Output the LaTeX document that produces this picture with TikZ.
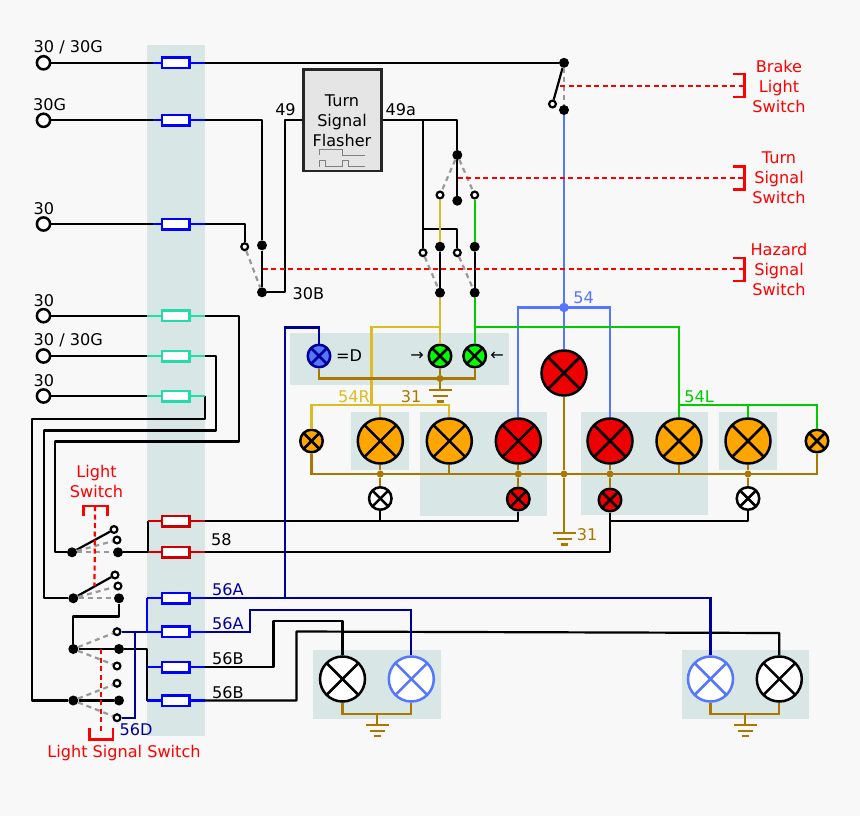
\documentclass[tikz,border=0pt]{standalone}
\usepackage{fontspec}
\setmainfont{DejaVu Sans}
\definecolor{bgcol}{HTML}{F8F8F8}
\definecolor{panelcol}{HTML}{D8E6E6}
\definecolor{yellowcol}{HTML}{DDBB22}
\definecolor{greencol}{HTML}{00CC00}
\definecolor{lightblue}{HTML}{5577FF}
\definecolor{darkblue}{HTML}{000099}
\definecolor{browncol}{HTML}{AA7700}
\definecolor{lampred}{HTML}{EE0000}
\definecolor{lamporange}{HTML}{FFA500}
\definecolor{turqcol}{HTML}{22DDAA}
\definecolor{fusered}{HTML}{CC0000}
\newcommand{\earth}[1]{
	\draw[brownwire] ([xshift=-11.5pt]#1) -- ([xshift=11.5pt]#1);
	\draw[brownwire] ([xshift=-7.5pt,yshift=-6pt]#1) -- ([xshift=7.5pt,yshift=-6pt]#1);
	\draw[brownwire] ([xshift=-3.5pt,yshift=-11.5pt]#1) -- ([xshift=3.5pt,yshift=-11.5pt]#1);
}
\begin{document}
\begin{tikzpicture}[
	x=1pt, y=-1pt,
	wire/.style={draw=black, line width=2.2pt, line join=round},
	bluewire/.style={draw=lightblue, line width=2.2pt},
	dbwire/.style={draw=darkblue, line width=2.2pt},
	yellowwire/.style={draw=yellowcol, line width=2.2pt},
	greenwire/.style={draw=greencol, line width=2.2pt},
	brownwire/.style={draw=browncol, line width=2.2pt},
	lead/.style={draw=#1, line width=2.2pt},
	contact/.style={draw=gray!80, line width=2.2pt, dash pattern=on 5pt off 4pt},
	linkage/.style={draw=red, line width=2.2pt, dash pattern=on 5pt off 3.5pt},
	bracket/.style={draw=red, line width=2.4pt},
	terminal/.style={circle, draw, line width=2.5pt, fill=white, minimum size=13.2pt, inner sep=0pt},
	joint/.style={circle, fill=black, minimum size=10pt, inner sep=0pt},
	brownjoint/.style={circle, fill=browncol, minimum size=7pt, inner sep=0pt},
	openpin/.style={circle, draw, line width=2.2pt, fill=white, minimum size=6.8pt, inner sep=0pt},
	fuse/.style={draw=#1, line width=2.5pt, fill=white, minimum width=27.5pt, minimum height=10.5pt, inner sep=0pt},
	lamp/.style={circle, draw=#1, line width=2.5pt, inner sep=0pt, path picture={
		\draw[#1, line width=2.5pt] (path picture bounding box.north west) -- (path picture bounding box.south east);
		\draw[#1, line width=2.5pt] (path picture bounding box.south west) -- (path picture bounding box.north east);}},
	biglamp/.style={lamp=#1, minimum size=45pt},
	smalllamp/.style={lamp=#1, minimum size=22.5pt},
	txt/.style={inner sep=0pt, align=center, font=\fontsize{16.1}{20}\selectfont},
	]
	
	%-----------------------
	% Background and panels
	%-----------------------
	\useasboundingbox (0,0) rectangle (860,816);
	\fill[bgcol] (0,0) rectangle (860,816);
	\fill[panelcol] (147,45) rectangle (205,736);
	\fill[panelcol] (290,332.7) rectangle (509,385);
	\fill[panelcol] (351,412) rectangle (409.3,470);
	\fill[panelcol] (420,412) rectangle (547.3,516);
	\fill[panelcol] (581,412) rectangle (708,515);
	\fill[panelcol] (719,412) rectangle (777.3,470);
	\fill[panelcol] (313.3,650) rectangle (440.7,719.3);
	\fill[panelcol] (681.5,650) rectangle (808.5,719.3);
	
	\def\xfuse{175.8}
	\def\xfl{147}
	\def\xfs{153}
	\def\xfr{205}
	
	%-----------------------
	% Terminals
	%-----------------------
	\node[terminal] (T1) at (43.5,62.8) {};
	\node[terminal] (T2) at (43.5,120.3) {};
	\node[terminal] (T3) at (43.5,224) {};
	\node[terminal] (T4) at (43.5,315.7) {};
	\node[terminal] (T5) at (43.5,356) {};
	\node[terminal] (T6) at (43.5,396) {};
	
	%-----------------------
	% Fuses
	%-----------------------
	\node[fuse=blue] (F1) at (\xfuse,62.8) {};
	\node[fuse=blue] (F2) at (\xfuse,120.3) {};
	\node[fuse=blue] (F3) at (\xfuse,224) {};
	\node[fuse=turqcol] (F4) at (\xfuse,315.7) {};
	\node[fuse=turqcol] (F5) at (\xfuse,356) {};
	\node[fuse=turqcol] (F6) at (\xfuse,396) {};
	\node[fuse=fusered] (F7) at (\xfuse,521) {};
	\node[fuse=fusered] (F8) at (\xfuse,552.3) {};
	\node[fuse=blue] (F9) at (\xfuse,598.3) {};
	\node[fuse=blue] (F10) at (\xfuse,631.7) {};
	\node[fuse=blue] (F11) at (\xfuse,667) {};
	\node[fuse=blue] (F12) at (\xfuse,700.5) {};
	
	\coordinate (F1a) at (\xfs,62.8);
	\coordinate (F1b) at (\xfr,62.8);
	\coordinate (F2a) at (\xfs,120.3);
	\coordinate (F2b) at (\xfr,120.3);
	\coordinate (F3a) at (\xfs,224);
	\coordinate (F3b) at (\xfr,224);
	\coordinate (F4a) at (\xfl,315.7);
	\coordinate (F4b) at (\xfr,315.7);
	\coordinate (F5a) at (\xfl,356);
	\coordinate (F5b) at (\xfr,356);
	\coordinate (F6a) at (\xfl,396);
	\coordinate (F6b) at (\xfr,396);
	\coordinate (F7a) at (148,521);
	\coordinate (F7b) at (\xfr,521);
	\coordinate (F8a) at (148,552.3);
	\coordinate (F8b) at (\xfr,552.3);
	\coordinate (F9a) at (\xfl,598.3);
	\coordinate (F9b) at (\xfr,598.3);
	\coordinate (F10a) at (\xfl,631.7);
	\coordinate (F10b) at (\xfr,631.7);
	\coordinate (F11a) at (\xfl,667);
	\coordinate (F11b) at (\xfr,667);
	\coordinate (F12a) at (\xfl,700.5);
	\coordinate (F12b) at (\xfr,700.5);
	
	%-----------------------
	% Flasher
	%-----------------------
	\node[draw=black!85, line width=2.5pt, fill=black!10, minimum width=78pt, minimum height=101.5pt, inner sep=0pt] (flasher) at (342.3,120.3) {};
	\node[txt] (flashertxt) at (342,120.5) {Turn\\Signal\\Flasher};
	\draw[gray, line width=1pt] (319.7,155) -- (319.7,149) -- (342.3,149) -- (342.3,155) -- (365,155);
	\draw[gray, line width=1pt] (319.7,166.7) -- (319.7,160.7) -- (325,160.7) -- (325,166.7) -- (342.3,166.7) -- (342.3,160.7) -- (348.3,160.7) -- (348.3,166.7) -- (365,166.7);
	
	%-----------------------
	% Switch contacts
	%-----------------------
	\node[joint] (dB1) at (564,62.8) {};
	\node[joint] (dB2) at (564,110) {};
	\node[openpin] (PB) at (552.5,104) {};
	
	\node[joint] (dG1) at (262,245.3) {};
	\node[joint] (dG2) at (262,292.3) {};
	\node[openpin] (PG) at (244.7,246.7) {};
	
	\node[joint] (dT1) at (457.3,155) {};
	\node[joint] (dT2) at (457.3,200.7) {};
	\node[openpin] (PTa) at (440,195) {};
	\node[openpin] (PTb) at (474.7,195) {};
	
	\node[openpin] (PHa) at (423,252.7) {};
	\node[openpin] (PHb) at (457.3,252.7) {};
	\node[joint] (dHa) at (440,246.7) {};
	\node[joint] (dHb) at (474.7,246.7) {};
	\node[joint] (dHc) at (440,292.7) {};
	\node[joint] (dHd) at (474.7,292.7) {};
	
	\node[joint] (dLa) at (72,552.3) {};
	\node[joint] (dLb) at (118,552.3) {};
	\node[openpin] (PLa) at (114,529.5) {};
	\node[openpin] (PLb) at (117,540) {};
	
	\node[joint] (dMa) at (73.3,598.3) {};
	\node[joint] (dMb) at (119,598.3) {};
	\node[openpin] (PMa) at (115,575) {};
	\node[openpin] (PMb) at (118,586) {};
	
	\node[joint] (dSa) at (73.3,649) {};
	\node[joint] (dSb) at (119,649) {};
	\node[joint] (dSc) at (73.3,700.5) {};
	\node[joint] (dSd) at (119,700.5) {};
	\node[openpin] (PSa) at (117,631.7) {};
	\node[openpin] (PSb) at (117,666) {};
	\node[openpin] (PSc) at (117,683.3) {};
	\node[openpin] (PSd) at (117,717.7) {};
	
	%-----------------------
	% Lamps
	%-----------------------
	\node[smalllamp=darkblue, fill=lightblue] (LD) at (319,356) {};
	\node[smalllamp=black, fill=green] (LGa) at (440,356) {};
	\node[smalllamp=black, fill=green] (LGb) at (474.7,356) {};
	\node[biglamp=black, fill=lampred] (LBrake) at (564,373) {};
	
	\node[smalllamp=black, fill=lamporange] (LOa) at (311.5,441) {};
	\node[biglamp=black, fill=lamporange] (LOb) at (380.3,441) {};
	\node[biglamp=black, fill=lamporange] (LOc) at (449.3,441) {};
	\node[biglamp=black, fill=lampred] (LRa) at (518.3,441) {};
	\node[biglamp=black, fill=lampred] (LRb) at (610,441) {};
	\node[biglamp=black, fill=lamporange] (LOd) at (679,441) {};
	\node[biglamp=black, fill=lamporange] (LOe) at (748,441) {};
	\node[smalllamp=black, fill=lamporange] (LOf) at (817,441) {};
	
	\node[smalllamp=black, fill=white] (LWa) at (380.3,498.5) {};
	\node[smalllamp=black, fill=lampred] (LRc) at (518.3,499) {};
	\node[smalllamp=black, fill=lampred] (LRd) at (610,500) {};
	\node[smalllamp=black, fill=white] (LWb) at (748,498.5) {};
	
	\node[biglamp=black, fill=white] (LHa) at (342.5,679) {};
	\node[biglamp=lightblue, fill=white] (LHb) at (411.3,679) {};
	\node[biglamp=lightblue, fill=white] (LHc) at (710.5,679) {};
	\node[biglamp=black, fill=white] (LHd) at (779.3,679) {};
	
	%-----------------------
	% Junctions
	%-----------------------
	\node[circle, fill=lightblue, minimum size=9.5pt, inner sep=0pt] (J54) at (564,307.5) {};
	\node[brownjoint] (Ba) at (440,378.5) {};
	\node[brownjoint] (Bb) at (380.3,474) {};
	\node[brownjoint] (Bc) at (518.3,474) {};
	\node[brownjoint] (Bd) at (564,474) {};
	\node[brownjoint] (Be) at (610,474) {};
	\node[brownjoint] (Bf) at (748,474) {};
	
	\coordinate (GNDa) at (440,390);
	\coordinate (GNDb) at (564,533);
	\coordinate (GNDc) at (377,724.7);
	\coordinate (GNDd) at (745,724.7);
	
	%-----------------------
	% Black wiring
	%-----------------------
	\coordinate (Cfl) at (285,120.3);
	\coordinate (Cha) at (423,120.3);
	\coordinate (Chb) at (423,229);
	\coordinate (Cfour) at (239,441.5);
	\coordinate (Cfourb) at (55,441.5);
	\coordinate (Cfive) at (216,430.5);
	\coordinate (Cfiveb) at (44,430.5);
	\coordinate (Csix) at (205,419);
	\coordinate (Csixb) at (32,419);
	\coordinate (Cseven) at (380.3,521);
	\coordinate (Ceight) at (610,521);
	\coordinate (Cm) at (119,616.5);
	\coordinate (Cs) at (147,649);
	\coordinate (Celev) at (273.5,621);
	\coordinate (Ctw) at (296.5,631.5);
	\coordinate (Ctwb) at (779.3,633);
	
	\draw[wire] (T1) -- (F1a);
	\draw[wire] (T2) -- (F2a);
	\draw[wire] (T3) -- (F3a);
	\draw[wire] (T4) -- (F4a);
	\draw[wire] (T5) -- (F5a);
	\draw[wire] (T6) -- (F6a);
	
	\draw[wire] (F1b) -- (dB1);
	\draw[wire] (dB1) -- (PB);
	\draw[wire] (F2b) -| (dG1);
	\draw[wire] (dG1) -- (dG2);
	\draw[wire] (F3b) -| (PG);
	\draw[wire] (dG2) -| (Cfl) -- (flasher.west);
	
	\draw[wire] (flasher.east) -| (dT1);
	\draw[wire] (dT1) -- (dT2);
	\draw[wire] (Cha) -- (PHa);
	\draw[wire] (Chb) -| (PHb);
	\draw[wire] (dHa) -- (dHc);
	\draw[wire] (dHb) -- (dHd);
	
	\draw[wire] (F4b) -| (Cfour) -- (Cfourb) |- (dLa);
	\draw[wire] (F5b) -| (Cfive) -- (Cfiveb) |- (dMa);
	\draw[wire] (F6b) -| (Csix) -- (Csixb) |- (dSc);
	
	\draw[wire] (dLa) -- (PLa);
	\draw[wire] (dMa) -- (PMa);
	\draw[wire] (dLb) -- (F8a) -- (F7a);
	\draw[wire] (dMb) -- (Cm) -| (dSa);
	\draw[wire] (dSa) -- (dSb) -- (Cs) -- (F12a);
	\draw[wire] (dSc) -- (dSd);
	
	\draw[wire] (F7b) -| (LRc);
	\draw[wire] (Cseven) -- (LWa);
	\draw[wire] (F8b) -| (LRd);
	\draw[wire] (Ceight) -| (LWb);
	\draw[wire] (F11b) -| (Celev) -| (LHa);
	\draw[wire] (F12b) -| (Ctw) -- (Ctwb) -- (LHd);
	
	%-----------------------
	% Fuse leads
	%-----------------------
	\draw[lead=blue] (F1a) -- (F1) -- (F1b);
	\draw[lead=blue] (F2a) -- (F2) -- (F2b);
	\draw[lead=blue] (F3a) -- (F3) -- (F3b);
	\draw[lead=turqcol] (F4a) -- (F4) -- (F4b);
	\draw[lead=turqcol] (F5a) -- (F5) -- (F5b);
	\draw[lead=turqcol] (F6a) -- (F6) -- (F6b);
	\draw[lead=fusered] (F7a) -- (F7) -- (F7b);
	\draw[lead=fusered] (F8a) -- (F8) -- (F8b);
	\draw[lead=blue] (F9a) -- (F9) -- (F9b);
	\draw[lead=blue] (F10a) -- (F10) -- (F10b);
	\draw[lead=blue] (F11a) -- (F11) -- (F11b);
	\draw[lead=blue] (F12a) -- (F12) -- (F12b);
	\draw[lead=blue] (F9a) -- (F10a);
	
	%-----------------------
	% Coloured wiring
	%-----------------------
	\coordinate (Cblue) at (518.3,307.5);
	\coordinate (Cblueb) at (610,307.5);
	\draw[bluewire] (dB2) -- (J54);
	\draw[bluewire] (J54) -- (LBrake);
	\draw[bluewire] (LRa.north) |- (Cblue) -- (Cblueb) -- (LRb.north);
	
	\coordinate (Cda) at (285,598.3);
	\coordinate (Cdb) at (319,327.5);
	\coordinate (Cten) at (250,610);
	\coordinate (Cdd) at (135.3,631.7);
	\coordinate (Cde) at (135.3,717.7);
	\draw[dbwire] (F9b) -| (LHc);
	\draw[dbwire] (Cda) |- (Cdb) -- (LD);
	\draw[dbwire] (F10b) -| (Cten) -| (LHb);
	\draw[dbwire] (PSa) -- (F10a);
	\draw[dbwire] (Cdd) -- (Cde) -- (PSd);
	
	\coordinate (Cya) at (371.5,327);
	\coordinate (Cyb) at (371.5,405);
	\coordinate (Cyc) at (311.5,405);
	\coordinate (Cyd) at (449.3,405);
	\coordinate (Cye) at (440,327);
	\draw[yellowwire] (PTa) -- (dHa);
	\draw[yellowwire] (dHc) -- (LGa);
	\draw[yellowwire] (Cye) -- (Cya) -- (Cyb);
	\draw[yellowwire] (LOa) -- (Cyc) -- (Cyd) -- (LOc);
	\draw[yellowwire] (LOb.north |- Cyc) -- (LOb);
	
	\coordinate (Cga) at (474.7,327);
	\coordinate (Cgb) at (679,327);
	\coordinate (Cgc) at (679,405);
	\coordinate (Cgd) at (817,405);
	\draw[greenwire] (PTb) -- (dHb);
	\draw[greenwire] (dHd) -- (LGb);
	\draw[greenwire] (Cga) -- (Cgb) -- (LOd);
	\draw[greenwire] (Cgc) -- (Cgd) -- (LOf);
	\draw[greenwire] (LOe.north |- Cgc) -- (LOe);
	
	%-----------------------
	% Ground wiring
	%-----------------------
	\coordinate (Cba) at (319,378.5);
	\coordinate (Cbb) at (474.7,378.5);
	\coordinate (Cbc) at (311.5,474);
	\coordinate (Cbd) at (817,474);
	\coordinate (Cbe) at (342.5,714);
	\coordinate (Cbf) at (411.3,714);
	\coordinate (Cbg) at (710.5,714);
	\coordinate (Cbh) at (779.3,714);
	
	\draw[brownwire] (LD) -- (Cba) -- (Cbb) -- (LGb);
	\draw[brownwire] (LGa) -- (Ba) -- (GNDa);
	\draw[brownwire] (LOa) -- (Cbc) -- (Cbd) -- (LOf);
	\draw[brownwire] (LOb) -- (Bb) -- (LWa);
	\draw[brownwire] (LOc.south) -- (LOc.south |- Cbc);
	\draw[brownwire] (LRa) -- (Bc) -- (LRc);
	\draw[brownwire] (LBrake) -- (Bd) -- (GNDb);
	\draw[brownwire] (LRb) -- (Be) -- (LRd);
	\draw[brownwire] (LOd.south) -- (LOd.south |- Cbc);
	\draw[brownwire] (LOe) -- (Bf) -- (LWb);
	\draw[brownwire] (LHa) -- (Cbe) -- (Cbf) -- (LHb);
	\draw[brownwire] (LHc) -- (Cbg) -- (Cbh) -- (LHd);
	\draw[brownwire] (GNDc |- Cbe) -- (GNDc);
	\draw[brownwire] (GNDd |- Cbe) -- (GNDd);
	
	\earth{GNDa}
	\earth{GNDb}
	\earth{GNDc}
	\earth{GNDd}
	
	%-----------------------
	% Open contacts
	%-----------------------
	\draw[contact] (dB1) -- (dB2);
	\draw[contact] (PG) -- (dG2);
	\draw[contact] (dT1) -- (PTa);
	\draw[contact] (dT1) -- (PTb);
	\draw[contact] (PHa) -- (dHc);
	\draw[contact] (PHb) -- (dHd);
	\draw[contact] (dLa) -- (PLb);
	\draw[contact] (dLa) -- (dLb);
	\draw[contact] (dMa) -- (PMb);
	\draw[contact] (dMa) -- (dMb);
	\draw[contact] (dSa) -- (PSa);
	\draw[contact] (dSa) -- (PSb);
	\draw[contact] (dSc) -- (PSc);
	\draw[contact] (dSc) -- (PSd);
	
	%-----------------------
	% Mechanical linkages
	%-----------------------
	\coordinate (Ka) at (560,85.7);
	\coordinate (Kb) at (744.3,85.7);
	\coordinate (Kc) at (457.7,178);
	\coordinate (Kd) at (744.3,178);
	\coordinate (Ke) at (262.7,269.3);
	\coordinate (Kf) at (744.3,269.3);
	\coordinate (Kg) at (95,506);
	\coordinate (Kh) at (94.5,586);
	\coordinate (Ki) at (101,649);
	\coordinate (Kj) at (101,733);
	
	\draw[linkage] (Ka) -- (Kb);
	\draw[linkage] (Kc) -- (Kd);
	\draw[linkage] (Ke) -- (Kf);
	\draw[linkage] (Kg) -- (Kh);
	\draw[linkage] (Ki) -- (Kj);
	
	\draw[bracket] (733,74) -- (744.3,74) -- (744.3,97.3) -- (733,97.3);
	\draw[bracket] (733,166.3) -- (744.3,166.3) -- (744.3,189.5) -- (733,189.5);
	\draw[bracket] (733,258) -- (744.3,258) -- (744.3,281.2) -- (733,281.2);
	\draw[bracket] (83.3,516) -- (83.3,505.7) -- (107.3,505.7) -- (107.3,516);
	\draw[bracket] (89.3,728) -- (89.3,739.3) -- (112.7,739.3) -- (112.7,728);
	
	%-----------------------
	% Labels
	%-----------------------
	\node[txt, anchor=west] (t1) at (33.5,47.5) {30 / 30G};
	\node[txt, anchor=west] (t2) at (33,104.5) {30G};
	\node[txt, anchor=west] (t3) at (33.5,208.5) {30};
	\node[txt, anchor=west] (t4) at (33.5,300.5) {30};
	\node[txt, anchor=west] (t5) at (33.5,340.5) {30 / 30G};
	\node[txt, anchor=west] (t6) at (33.5,380.5) {30};
	\node[txt] (t49) at (285.5,110) {49};
	\node[txt, anchor=west] (t49a) at (385.5,110) {49a};
	\node[txt, anchor=west] (t30B) at (292.5,293.5) {30B};
	\node[txt] (tD) at (349,356) {=D};
	\node[txt] (tra) at (417,356) {→};
	\node[txt] (tla) at (497,356) {←};
	\node[txt, text=yellowcol] (t54R) at (354,397) {54R};
	\node[txt, text=browncol] (t31a) at (411,397) {31};
	\node[txt, text=lightblue] (t54) at (583.5,298) {54};
	\node[txt, text=greencol] (t54L) at (699,397) {54L};
	\node[txt, text=browncol] (t31b) at (587,535) {31};
	\node[txt, anchor=west] (t58) at (211,540) {58};
	\node[txt, anchor=west, text=darkblue] (t56Aa) at (212,590) {56A};
	\node[txt, anchor=west, text=darkblue] (t56Ab) at (212,623.5) {56A};
	\node[txt, anchor=west] (t56Ba) at (212,658.5) {56B};
	\node[txt, anchor=west] (t56Bb) at (212,692.5) {56B};
	\node[txt, anchor=west, text=darkblue] (t56D) at (119.5,729.5) {56D};
	
	\node[txt, text=red] (tBrake) at (779,86) {Brake\\Light\\Switch};
	\node[txt, text=red] (tTurn) at (779,178) {Turn\\Signal\\Switch};
	\node[txt, text=red] (tHazard) at (779,269.5) {Hazard\\Signal\\Switch};
	\node[txt, text=red] (tLight) at (96.5,481.5) {Light\\Switch};
	\node[txt, text=red] (tLss) at (124,753) {Light Signal Switch};
	
\end{tikzpicture}
\end{document}
